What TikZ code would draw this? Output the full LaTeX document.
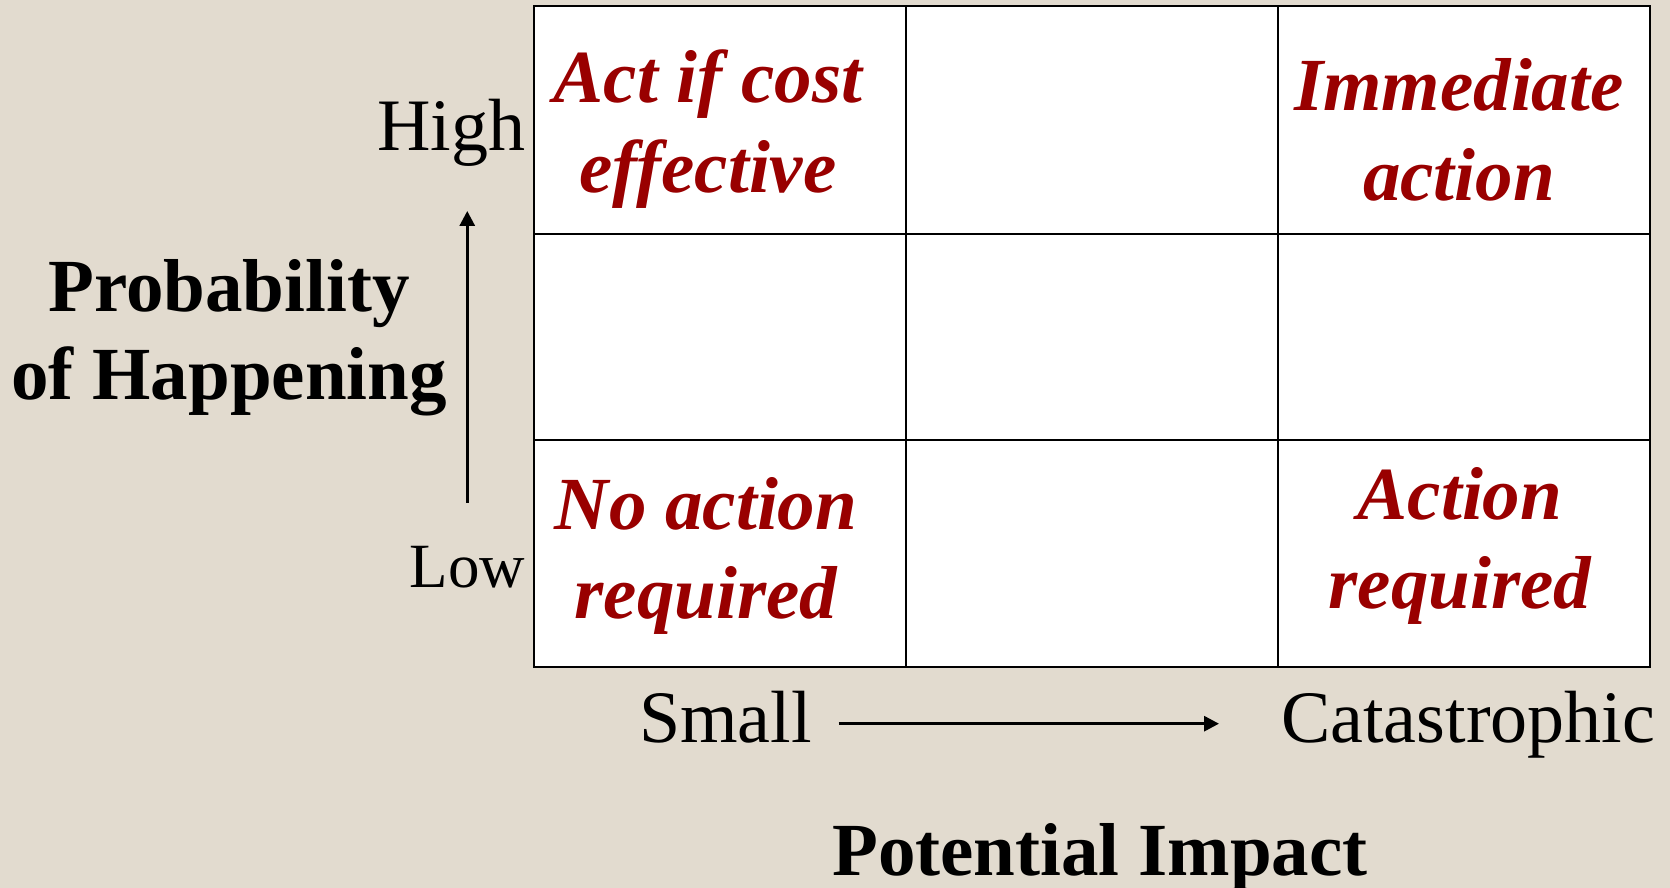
\documentclass[tikz,border=0pt]{standalone}
\usepackage{fontspec}
\setmainfont{Liberation Serif}
\usetikzlibrary{arrows.meta, positioning, calc}

\definecolor{paper}{RGB}{226,219,207}
\definecolor{advicered}{RGB}{153,0,0}

\begin{document}
\begin{tikzpicture}[x=1pt, y=-1pt, >={Triangle[length=15pt, width=15pt]},
  every node/.style = {inner sep=0pt, outer sep=0pt},
  cell/.style = {draw, line width=2.8pt, fill=white, minimum width=372pt, anchor=north west},
  advice/.style = {anchor=base, align=center, text=advicered, font=\fontsize{75}{89}\selectfont\bfseries\itshape},
  tick/.style = {font=\fontsize{74}{89}\selectfont},
  axis/.style = {anchor=base, align=center, font=\fontsize{75}{88}\selectfont\bfseries},
  scale arrow/.style = {->, line width=3pt}]
  % paper background
  \fill[paper] (0,0) rectangle (1670,888);
  \useasboundingbox (0,0) rectangle (1670,888);

  % the 3x3 grid
  \foreach \col/\x in {1/534, 2/906, 3/1278} {
    \node[cell, minimum height=228pt] (hi\col)  at (\x,6) {};
    \node[cell, minimum height=206pt] (mid\col) at (\x,234) {};
    \node[cell, minimum height=227pt] (lo\col)  at (\x,440) {};
  }

  % corner advice (base = last line)
  \node[advice] (act)  at (708,192)  {Act if cost\\effective};
  \node[advice] (imm)  at (1459,200) {Immediate\\action};
  \node[advice] (none) at (706,618)  {No action\\required};
  \node[advice] (req)  at (1460,608) {Action\\required};

  % probability scale
  \node[tick, anchor=base east] (high) at (525,150) {High};
  \node[tick, anchor=base east, font=\fontsize{63}{76}\selectfont] (low) at (525,587) {Low};
  \draw[scale arrow, shorten <=43pt, shorten >=45pt] (low.north) -- (low.north |- high.south);
  \node[axis] (prob) at (229,399) {Probability\\of Happening};

  % impact scale
  \node[tick, anchor=base west] (small) at (639,742)  {Small};
  \node[tick, anchor=base west] (cata)  at (1281,742) {Catastrophic};
  \draw[scale arrow, shorten <=27pt, shorten >=62pt] ([yshift=-7pt]small.east) -- ([yshift=-7pt]small.east -| cata.west);
  \node[axis] (impact) at (1100,875) {Potential Impact};
\end{tikzpicture}
\end{document}
